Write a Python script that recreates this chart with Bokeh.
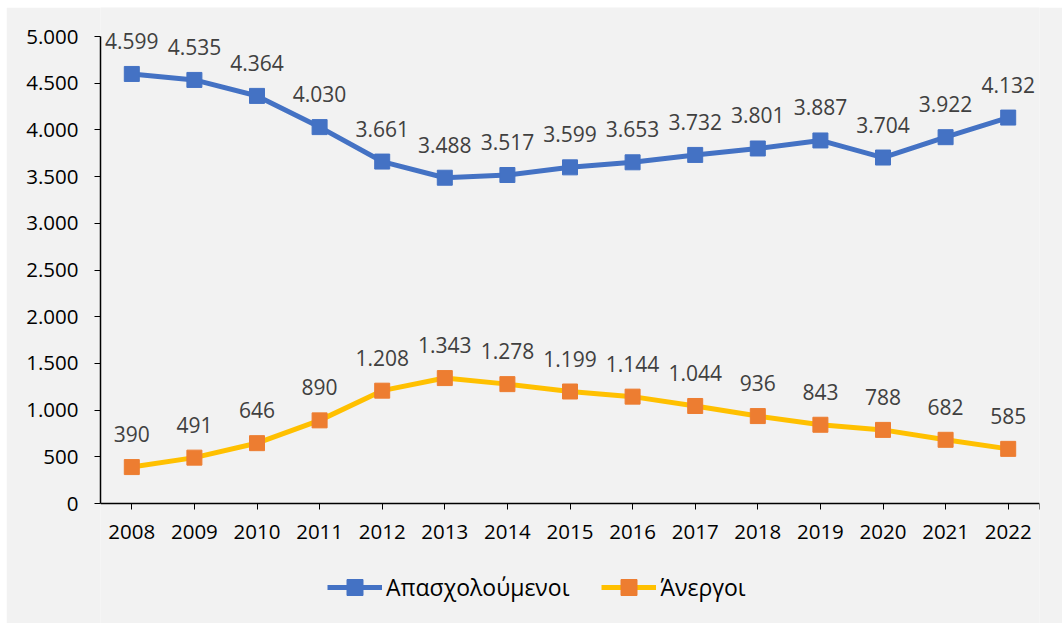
from bokeh.plotting import figure
from bokeh.models import (ColumnDataSource, FixedTicker, LabelSet, Legend, LegendItem)
from bokeh.core.properties import value
from bokeh.embed import file_html
from bokeh.resources import INLINE

years = [2008, 2009, 2010, 2011, 2012, 2013, 2014, 2015, 2016, 2017, 2018, 2019, 2020, 2021, 2022]
employed = [4599, 4535, 4364, 4030, 3661, 3488, 3517, 3599, 3653, 3732, 3801, 3887, 3704, 3922, 4132]
unemployed = [390, 491, 646, 890, 1208, 1343, 1278, 1199, 1144, 1044, 936, 843, 788, 682, 585]
series_names = ["Απασχολούμενοι", "Άνεργοι"]
y_ticks = [0, 500, 1000, 1500, 2000, 2500, 3000, 3500, 4000, 4500, 5000]


def fmt(v):
    return f"{v:,}".replace(",", ".")


FONT = "Open Sans"
BG = "#F2F2F2"
BLUE = "#4472C4"
YELLOW = "#FFC000"
ORANGE = "#ED7D31"

W, H = 1056, 616
AX_TOP, AX_BOTTOM = 29, 496           # pixel rows of 5000 and 0 inside the figure
px_per_unit = (AX_BOTTOM - AX_TOP) / (y_ticks[-1] - y_ticks[0])
y_hi = y_ticks[-1] + AX_TOP / px_per_unit
y_lo = y_ticks[0] - (H - AX_BOTTOM) / px_per_unit

src = ColumnDataSource(dict(
    x=years,
    emp=employed,
    unemp=unemployed,
    emp_lbl=[fmt(v) for v in employed],
    unemp_lbl=[fmt(v) for v in unemployed],
))

p = figure(width=W, height=H, output_backend="svg", toolbar_location=None,
           x_range=(years[0] - 0.5, years[-1] + 0.5), y_range=(y_lo, y_hi),
           min_border_left=94, min_border_right=23, min_border_top=0, min_border_bottom=0)
p.styles = {"margin-left": "6px", "margin-top": "7px"}
p.background_fill_color = BG
p.border_fill_color = BG
p.outline_line_color = None
p.xgrid.visible = False
p.ygrid.visible = False

l1 = p.line("x", "emp", source=src, line_color=BLUE, line_width=5)
m1 = p.scatter("x", "emp", source=src, marker="square", size=15, fill_color=BLUE, line_color=BLUE)
l2 = p.line("x", "unemp", source=src, line_color=YELLOW, line_width=5)
m2 = p.scatter("x", "unemp", source=src, marker="square", size=15, fill_color=ORANGE, line_color=ORANGE)

for col in ("emp_lbl", "unemp_lbl"):
    yc = "emp" if col == "emp_lbl" else "unemp"
    ls = LabelSet(x="x", y=yc, text=col, source=src, text_align="center",
                  text_baseline="alphabetic", y_offset=25,
                  text_font=value(FONT), text_font_size="21px", text_color="#404040")
    p.add_layout(ls)

# x axis drawn at y = 0
p.xaxis.fixed_location = 0
p.xaxis.ticker = FixedTicker(ticks=years, minor_ticks=[years[-1] + 0.5])
p.xaxis.major_tick_out = 6
p.xaxis.major_tick_in = 0
p.xaxis.minor_tick_out = 6
p.xaxis.minor_tick_in = 0
p.xaxis.axis_line_color = "#000000"
p.xaxis.major_tick_line_color = "#000000"
p.xaxis.minor_tick_line_color = "#000000"
p.xaxis.axis_line_width = 1.5
p.xaxis.major_label_text_font = FONT
p.xaxis.major_label_text_font_size = "20.5px"
p.xaxis.major_label_text_color = "#000000"
p.xaxis.major_label_standoff = 15

p.yaxis.bounds = (y_ticks[0], y_ticks[-1])
p.yaxis.ticker = FixedTicker(ticks=y_ticks, minor_ticks=[])
p.yaxis.major_label_overrides = {t: fmt(t) for t in y_ticks}
p.yaxis.major_tick_out = 6
p.yaxis.major_tick_in = 0
p.yaxis.minor_tick_line_color = None
p.yaxis.axis_line_color = "#000000"
p.yaxis.major_tick_line_color = "#000000"
p.yaxis.axis_line_width = 1.5
p.yaxis.major_label_text_font = FONT
p.yaxis.major_label_text_font_size = "20.5px"
p.yaxis.major_label_text_color = "#000000"
p.yaxis.major_label_standoff = 16

legend = Legend(items=[LegendItem(label=series_names[0], renderers=[l1, m1]),
                       LegendItem(label=series_names[1], renderers=[l2, m2])],
                orientation="horizontal", location=(227, 16),
                glyph_width=55, glyph_height=40, label_standoff=4, spacing=32,
                padding=0, margin=0, border_line_alpha=0, background_fill_alpha=0,
                label_text_font=FONT, label_text_font_size="23px", label_text_color="#000000")
p.add_layout(legend, "center")

open("out.html", "w").write(file_html(p, INLINE))
